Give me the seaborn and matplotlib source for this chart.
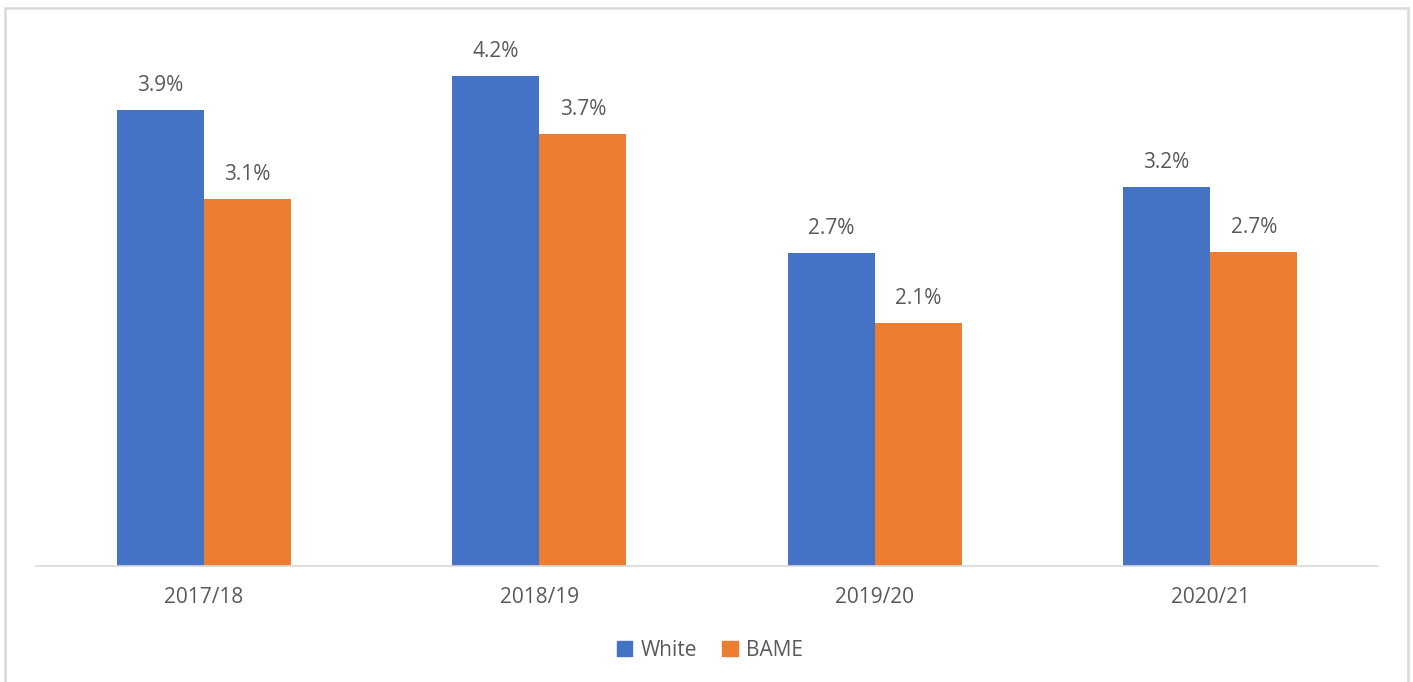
import pandas as pd
import matplotlib.pyplot as plt
import seaborn as sns
from matplotlib.patches import Rectangle, Patch

# chart data (bar heights, labels shown to 1 d.p.)
years = ['2017/18', '2018/19', '2019/20', '2020/21']
white = [3.90, 4.19, 2.68, 3.24]
bame = [3.14, 3.70, 2.08, 2.69]
groups = ['White', 'BAME']
colors = ['#4472C4', '#ED7D31']

df = pd.DataFrame({
    'year': years * 2,
    'group': ['White'] * len(years) + ['BAME'] * len(years),
    'value': white + bame,
})

sns.set_style('white')
plt.rcParams['font.family'] = ['Open Sans', 'DejaVu Sans']
text_col = '#595959'
fs = 15

fig = plt.figure(figsize=(14.13, 6.82), dpi=100)
ax = fig.add_axes([36 / 1413, 116 / 682, 1342 / 1413, 526 / 682])

sns.barplot(data=df, x='year', y='value', hue='group', palette=colors,
            width=0.52, gap=0, saturation=1, linewidth=0, legend=False, ax=ax)

for cont in ax.containers:
    ax.bar_label(cont, labels=[f'{v:.1f}%' for v in cont.datavalues],
                 padding=10, fontsize=fs, color=text_col)

ax.set_xlim(-0.5, 3.5)
ax.set_ylim(0, 4.5)
ax.set_xlabel('')
ax.set_ylabel('')
ax.set_yticks([])
ax.tick_params(axis='x', length=0, pad=15, labelsize=fs, labelcolor=text_col)
for s in ['top', 'left', 'right']:
    ax.spines[s].set_visible(False)
ax.spines['bottom'].set_color('#d9d9d9')
ax.spines['bottom'].set_linewidth(1.2)

# outer chart border
fig.patches.append(Rectangle((5 / 1413, -0.05), 1403 / 1413, 0.05 + 674 / 682,
                             transform=fig.transFigure, fill=False,
                             edgecolor='#d9d9d9', linewidth=1.8))

handles = [Patch(color=c, label=g) for c, g in zip(colors, groups)]
fig.legend(handles=handles, loc='center', bbox_to_anchor=(710 / 1413, 1 - 650 / 682),
           ncol=2, frameon=False, fontsize=fs, labelcolor=text_col,
           handlelength=0.75, handleheight=0.75, handletextpad=0.4, columnspacing=1.2)

fig.savefig('out.png', dpi=100)
